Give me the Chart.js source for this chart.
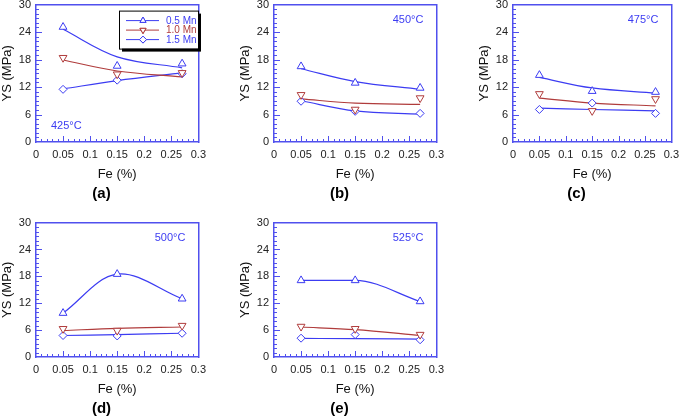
<!DOCTYPE html>
<html>
<head>
<meta charset="utf-8">
<script src="https://cdn.jsdelivr.net/npm/chart.js@4.4.1/dist/chart.umd.min.js"></script>
<style>
  body { margin: 0; background: #fff; width: 685px; height: 416px; overflow: hidden; position: relative; }
  .panel { position: absolute; }
</style>
</head>
<body>
<div class="panel" style="left:0;top:-7px"><canvas id="pa" width="212" height="213"></canvas></div>
<div class="panel" style="left:238px;top:-7px"><canvas id="pb" width="212" height="213"></canvas></div>
<div class="panel" style="left:477px;top:-7px"><canvas id="pc" width="208" height="213"></canvas></div>
<div class="panel" style="left:0;top:211px"><canvas id="pd" width="212" height="210"></canvas></div>
<div class="panel" style="left:238px;top:211px"><canvas id="pe" width="212" height="210"></canvas></div>
<script>
// Fe content (%) of the three alloys
const feValues = [0.05, 0.15, 0.27];
const panelLetters = ['(a)', '(b)', '(c)', '(d)', '(e)'];
const temperatures = ['425°C', '450°C', '475°C', '500°C', '525°C'];
const seriesNames = ['0.5 Mn', '1.0 Mn', '1.5 Mn'];

// measured yield strength (MPa), one row per temperature
const ys05Mn = [[25.1, 16.6, 17.1], [16.5, 12.9, 11.8], [14.6, 11.1, 10.9], [9.8, 18.5, 13.0], [17.1, 17.1, 12.4]];
const ys10Mn = [[18.4, 14.8, 15.1], [10.3, 7.1, 9.6], [10.5, 6.8, 9.4], [6.3, 5.9, 7.0], [6.8, 6.3, 5.0]];
const ys15Mn = [[11.5, 13.5, 14.9], [8.9, 6.7, 6.25], [7.1, 8.5, 6.25], [4.8, 4.7, 5.3], [4.2, 5.0, 3.85]];

// fitted curves read at the same Fe values
const fit05Mn = [[24.6, 18.6, 16.2], [16.0, 13.2, 11.5], [14.1, 11.8, 10.7], [9.8, 18.5, 13.0], [17.1, 17.1, 12.4]];
const fit10Mn = [[17.9, 15.5, 14.2], [9.4, 8.5, 8.2], [9.6, 8.5, 7.9], [5.9, 6.4, 6.7], [6.7, 6.1, 4.8]];
const fit15Mn = [[11.6, 13.4, 15.1], [9.0, 6.8, 6.1], [7.4, 7.1, 6.8], [4.8, 5.0, 5.3], [4.15, 4.1, 4.0]];

const BLUE = '#3c3cf2';
const RED = '#b03c3c';
const AXIS = '#5050ee';
const FONT = "'Liberation Sans', Arial, sans-serif";

const markers = [
    { style: 'triangle', rotation: 0, color: BLUE, radius: 4.5 },
    { style: 'triangle', rotation: 180, color: RED, radius: 4.5 },
    { style: 'rectRot', rotation: 0, color: BLUE, radius: 4 }
];

function toPoints(values) {
    return feValues.map((x, i) => ({ x: x, y: values[i] }));
}

// inward major/minor ticks on left and bottom axes
const innerTicks = {
    id: 'innerTicks',
    afterDatasetsDraw(chart) {
        const ctx = chart.ctx;
        const a = chart.chartArea;
        const xs = chart.scales.x, ys = chart.scales.y;
        ctx.save();
        ctx.strokeStyle = AXIS;
        ctx.lineWidth = 1;
        ctx.beginPath();
        for (let i = 1; i < 30; i++) {
            const px = Math.round(xs.getPixelForValue(i / 100)) + 0.5;
            const len = i % 5 === 0 ? 6 : 3;
            ctx.moveTo(px, a.bottom);
            ctx.lineTo(px, a.bottom - len);
        }
        for (let i = 1; i < 30; i++) {
            const py = Math.round(ys.getPixelForValue(i)) + 0.5;
            const len = i % 6 === 0 ? 6 : 3;
            ctx.moveTo(a.left, py);
            ctx.lineTo(a.left + len, py);
        }
        ctx.stroke();
        ctx.restore();
    }
};

// temperature label inside the plot
const tempLabel = {
    id: 'tempLabel',
    afterDatasetsDraw(chart, args, opts) {
        const ctx = chart.ctx;
        const a = chart.chartArea;
        ctx.save();
        ctx.fillStyle = BLUE;
        ctx.font = '11px ' + FONT;
        ctx.textBaseline = 'middle';
        if (opts.corner === 'bottomLeft') {
            ctx.textAlign = 'left';
            ctx.fillText(opts.text, a.left + 15, a.bottom - 16);
        } else {
            ctx.textAlign = 'right';
            ctx.fillText(opts.text, a.right - 13, a.top + 15);
        }
        ctx.restore();
    }
};

// boxed legend with drop shadow (panel a only)
const boxLegend = {
    id: 'boxLegend',
    afterDatasetsDraw(chart, args, opts) {
        if (!opts.show) return;
        const ctx = chart.ctx;
        const a = chart.chartArea;
        const x0 = a.left + 83, y0 = a.top + 6, w = 79, h = 38;
        ctx.save();
        ctx.fillStyle = '#000';
        ctx.fillRect(x0 + 3, y0 + 3, w, h);
        ctx.fillStyle = '#fff';
        ctx.fillRect(x0, y0, w, h);
        ctx.strokeStyle = '#000';
        ctx.lineWidth = 1;
        ctx.strokeRect(x0 + 0.5, y0 + 0.5, w, h);
        ctx.font = '10px ' + FONT;
        ctx.textBaseline = 'middle';
        ctx.textAlign = 'left';
        seriesNames.forEach((name, i) => {
            const m = markers[i];
            const y = y0 + 10 + i * 9.5;
            ctx.strokeStyle = m.color;
            ctx.lineWidth = 1;
            ctx.beginPath();
            ctx.moveTo(x0 + 7, y);
            ctx.lineTo(x0 + 40, y);
            ctx.stroke();
            ctx.fillStyle = '#fff';
            Chart.helpers.drawPoint(ctx, {
                pointStyle: m.style, rotation: m.rotation, radius: 3.5, borderWidth: 1
            }, x0 + 24, y);
            ctx.fill();
            ctx.stroke();
            ctx.fillStyle = m.color;
            ctx.fillText(name, x0 + 47, y + 0.5);
        });
        ctx.restore();
    }
};

function buildPanel(canvasId, idx) {
    const measured = [ys05Mn[idx], ys10Mn[idx], ys15Mn[idx]];
    const fitted = [fit05Mn[idx], fit10Mn[idx], fit15Mn[idx]];
    const datasets = [];
    fitted.forEach((vals, i) => {
        datasets.push({
            data: toPoints(vals),
            showLine: true,
            borderColor: markers[i].color,
            borderWidth: 1.2,
            pointRadius: 0,
            tension: 0.35,
            cubicInterpolationMode: idx === 4 ? 'monotone' : 'default',
            order: 2
        });
    });
    measured.forEach((vals, i) => {
        datasets.push({
            data: toPoints(vals),
            showLine: false,
            pointStyle: markers[i].style,
            pointRotation: markers[i].rotation,
            pointRadius: markers[i].radius,
            pointBorderWidth: 1,
            borderColor: markers[i].color,
            backgroundColor: '#fff',
            order: 1
        });
    });

    new Chart(document.getElementById(canvasId), {
        type: 'scatter',
        data: { datasets: datasets },
        plugins: [innerTicks, tempLabel, boxLegend],
        options: {
            responsive: false,
            animation: false,
            layout: { padding: { top: 5, right: 9, left: 0, bottom: 0 } },
            plugins: {
                legend: { display: false },
                tooltip: { enabled: false },
                title: {
                    display: true,
                    text: panelLetters[idx],
                    position: 'bottom',
                    color: '#000',
                    font: { family: FONT, size: 15, weight: 'bold' },
                    padding: { top: 3, bottom: 3 }
                },
                tempLabel: { text: temperatures[idx], corner: idx === 0 ? 'bottomLeft' : 'topRight' },
                boxLegend: { show: idx === 0 }
            },
            scales: {
                x: {
                    type: 'linear',
                    min: 0,
                    max: 0.3,
                    afterFit: s => { s.height = 40; },
                    grid: { display: false, drawTicks: false },
                    border: { display: true, color: AXIS, width: 1.5 },
                    ticks: {
                        stepSize: 0.05,
                        padding: 6,
                        maxRotation: 0,
                        minRotation: 0,
                        autoSkip: false,
                        color: '#222',
                        font: { family: FONT, size: 11 },
                        callback: v => String(Math.round(v * 100) / 100)
                    },
                    title: {
                        display: true,
                        text: 'Fe (%)',
                        color: '#111',
                        font: { family: FONT, size: 13 },
                        padding: { top: 4, bottom: 0 }
                    }
                },
                y: {
                    min: 0,
                    max: 30,
                    afterFit: s => { s.width = 36; },
                    grid: { display: false, drawTicks: false },
                    border: { display: true, color: AXIS, width: 1.5 },
                    ticks: {
                        stepSize: 6,
                        padding: 5,
                        color: '#222',
                        font: { family: FONT, size: 11 }
                    },
                    title: {
                        display: true,
                        text: 'YS (MPa)',
                        color: '#111',
                        font: { family: FONT, size: 13 },
                        padding: { top: 0, bottom: 2 }
                    }
                },
                x2: {
                    type: 'linear', position: 'top', display: true,
                    afterFit: s => { s.height = 0; },
                    grid: { display: false, drawTicks: false },
                    border: { display: true, color: AXIS, width: 1.5 },
                    ticks: { display: false }
                },
                y2: {
                    type: 'linear', position: 'right', display: true,
                    afterFit: s => { s.width = 0; },
                    grid: { display: false, drawTicks: false },
                    border: { display: true, color: AXIS, width: 1.5 },
                    ticks: { display: false }
                }
            }
        }
    });
}

['pa', 'pb', 'pc', 'pd', 'pe'].forEach((id, i) => buildPanel(id, i));
</script>
</body>
</html>
